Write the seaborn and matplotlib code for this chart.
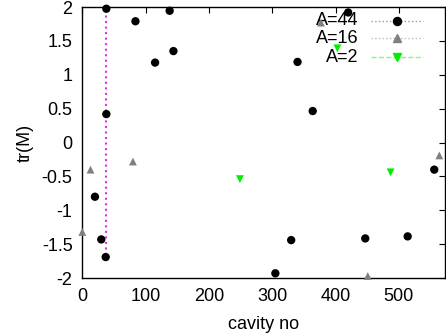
import pandas as pd
import seaborn as sns
import matplotlib.pyplot as plt

# valores
a44_x = [38, 84, 138, 115, 144, 38, 420, 340, 364, 556, 20, 30, 37, 305, 330, 447, 514]
a44_y = [1.975, 1.79, 1.945, 1.18, 1.35, 0.42, 1.92, 1.19, 0.465, -0.40, -0.80, -1.43, -1.69, -1.93, -1.44, -1.415, -1.385]

a16_x = [13, 80, 0, 451, 564, 377]
a16_y = [-0.40, -0.28, -1.32, -1.97, -0.19, 1.77]

a2_x = [403, 249, 487]
a2_y = [1.39, -0.54, -0.44]

linha_x = 38
linha_y = [-1.66, 2.0]

rotulos = ['A=44', 'A=16', 'A=2']
cores = ['black', '#808080', '#00ee00']
marcadores = ['o', '^', 'v']
cores_linha = ['#999999', '#bbbbbb', '#77ff77']
estilos_linha = [':', ':', '--']

sns.set_style("white")
plt.rcParams['font.family'] = ['Liberation Sans', 'DejaVu Sans']
plt.rcParams['text.color'] = 'black'
plt.rcParams['xtick.color'] = 'black'
plt.rcParams['ytick.color'] = 'black'
plt.rcParams['axes.labelcolor'] = 'black'

fig = plt.figure(figsize=(4.46, 3.35), dpi=100)
ax = fig.add_axes([0.1845, 0.170, 0.8133, 0.809])

ax.plot([linha_x, linha_x], linha_y, color='#e030e0', linestyle=':', linewidth=1.5, zorder=1)

series = [(a44_x, a44_y), (a16_x, a16_y), (a2_x, a2_y)]
tamanhos = [36, 32, 32]
for (xs, ys), c, m, t in zip(series, cores, marcadores, tamanhos):
    sns.scatterplot(x=xs, y=ys, ax=ax, color=c, marker=m, s=t, edgecolor='none', clip_on=False, zorder=3)

ax.set_xlim(0, 573)
ax.set_ylim(-2, 2)
ax.set_xticks([0, 100, 200, 300, 400, 500])
ax.set_yticks([-2, -1.5, -1, -0.5, 0, 0.5, 1, 1.5, 2])
ax.set_yticklabels(['-2', '-1.5', '-1', '-0.5', '0', '0.5', '1', '1.5', '2'])
ax.tick_params(direction='in', length=4, width=0.8, top=True, right=True, labelsize=13, pad=7)
for s in ax.spines.values():
    s.set_color('black')
    s.set_linewidth(1)

ax.set_xlabel('cavity no', fontsize=13, labelpad=8)
ax.set_ylabel('tr(M)', fontsize=13, labelpad=6)

# legenda no estilo gnuplot: texto a direita alinhado, amostra depois
linhas_y = [0.949, 0.884, 0.815]
for yy, rot, c, m, cl, ls in zip(linhas_y, rotulos, cores, marcadores, cores_linha, estilos_linha):
    ax.text(0.762, yy, rot, transform=ax.transAxes, ha='right', va='center', fontsize=13, zorder=2)
    ax.plot([0.795, 0.939], [yy, yy], transform=ax.transAxes, color=cl, linestyle=ls,
            linewidth=1, clip_on=False, zorder=2)
    ax.plot([0.867], [yy], transform=ax.transAxes, color=c, marker=m, markersize=5.8,
            linestyle='none', clip_on=False, zorder=4)

fig.savefig('out.png', dpi=100)
